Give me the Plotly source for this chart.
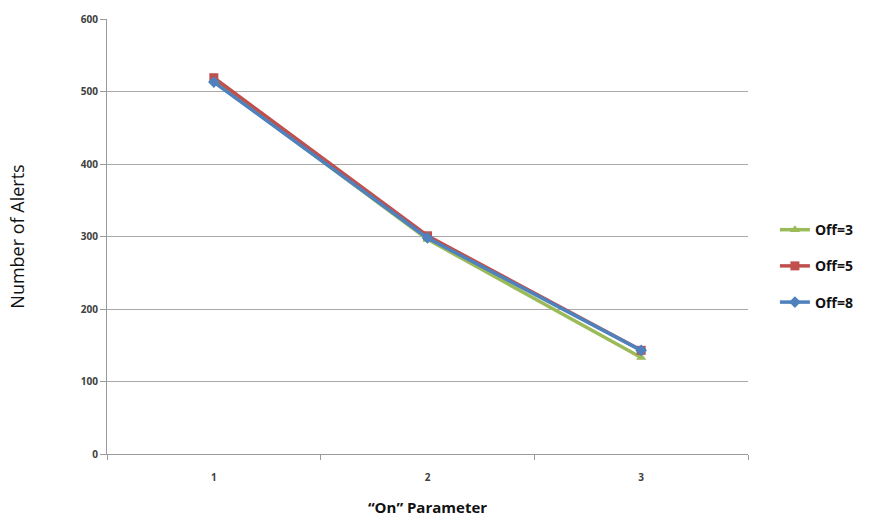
import plotly.graph_objects as go

on_param = [1, 2, 3]
off3 = [515, 296, 133]
off5 = [519, 301, 143]
off8 = [513, 298, 143]
series_names = ["Off=3", "Off=5", "Off=8"]
y_ticks = [0, 100, 200, 300, 400, 500, 600]

colors = ["#9BBB59", "#C0504D", "#4F81BD"]
symbols = ["triangle-up", "square", "diamond"]

fig = go.Figure()
for name, vals, c, s in zip(series_names, [off3, off5, off8], colors, symbols):
    fig.add_trace(go.Scatter(
        x=on_param, y=vals, name=name, mode="lines+markers", legendgroup=name,
        line=dict(color=c, width=3.5),
        marker=dict(symbol=s, size=9, color=c),
    ))

tickfont = dict(family="Open Sans, Carlito, sans-serif", size=10, color="#404040", weight="bold")
fig.update_layout(
    width=873, height=521,
    margin=dict(l=107, r=125, t=19, b=67),
    paper_bgcolor="white", plot_bgcolor="white",
    showlegend=True,
    legend=dict(x=1.042, y=0.432, xanchor="left", yanchor="middle",
                font=dict(family="Open Sans, sans-serif", size=14, color="#111111", weight="bold"),
                tracegroupgap=15, itemwidth=30, bgcolor="rgba(0,0,0,0)"),
    xaxis=dict(
        range=[0.5, 3.5], tickvals=on_param, ticktext=[str(v) for v in on_param],
        showgrid=False, zeroline=False, showline=True, linecolor="#9a9a9a", linewidth=1,
        ticks="", ticklabelstandoff=14, tickfont=tickfont, automargin=False,
        minor=dict(ticks="outside", tick0=0.5, dtick=1, ticklen=5, tickcolor="#9a9a9a", showgrid=False),
        title=dict(text="“On” Parameter", standoff=19,
                   font=dict(family="Open Sans, sans-serif", size=15, color="#111111", weight="bold")),
    ),
    yaxis=dict(
        range=[0, 600], tickvals=y_ticks, showgrid=True, gridcolor="#a8a8a8", gridwidth=1,
        zeroline=False, showline=True, linecolor="#9a9a9a", linewidth=1,
        ticks="outside", ticklen=6, tickcolor="#9a9a9a", tickfont=tickfont, automargin=False,
        title=dict(text="Number of Alerts", standoff=51,
                   font=dict(family="Open Sans, sans-serif", size=18, color="#111111")),
    ),
)
fig.write_html("out.html")
